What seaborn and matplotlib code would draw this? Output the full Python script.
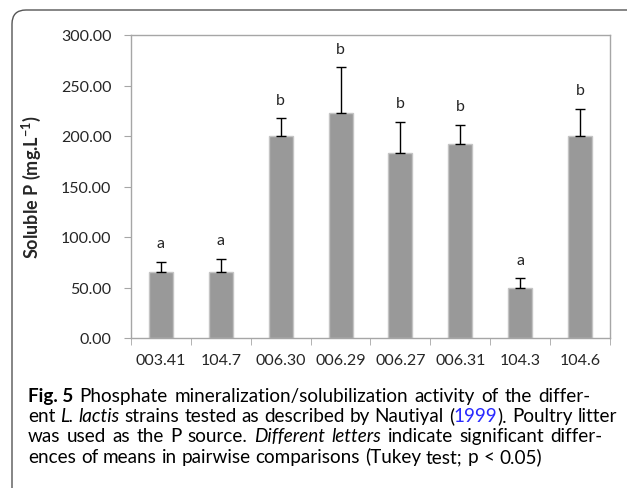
import matplotlib
matplotlib.use("Agg")
import matplotlib.pyplot as plt
import matplotlib.transforms as mtransforms
from matplotlib.patches import FancyBboxPatch
import numpy as np
import seaborn as sns

strains = ["003.41", "104.7", "006.30", "006.29", "006.27", "006.31", "104.3", "104.6"]
soluble_p = [65, 65, 200, 222.5, 183, 192, 50, 200]
sd_upper = [10.5, 13.5, 17.5, 45.5, 31, 19, 9, 27]
letters = ["a", "a", "b", "b", "b", "b", "a", "b"]
yticks = [0, 50, 100, 150, 200, 250, 300]

caption = [
    [("Fig.\u00a05", "bold", "k"),
     (" Phosphate mineralization/solubilization activity of the differ-", "normal", "k")],
    [("ent ", "normal", "k"), ("L. lactis", "italic", "k"),
     (" strains tested as described by Nautiyal (", "normal", "k"),
     ("1999", "normal", "#2a2aff"), ("). Poultry litter", "normal", "k")],
    [("was used as the P source. ", "normal", "k"), ("Different letters", "italic", "k"),
     (" indicate significant differ-", "normal", "k")],
    [("ences of means in pairwise comparisons (Tukey test; p < 0.05)", "normal", "k")],
]

sns.set_style("white")
plt.rcParams["font.family"] = ["Lato", "DejaVu Sans"]
plt.rcParams["mathtext.fontset"] = "custom"
plt.rcParams["mathtext.rm"] = "Lato"
plt.rcParams["mathtext.bf"] = "Lato:bold"

W, H = 627, 489
fig = plt.figure(figsize=(W / 100, H / 100), dpi=100)
ax = fig.add_axes([131 / W, 1 - 339 / H, 479 / W, 303 / H])

sns.barplot(x=strains, y=soluble_p, color="#999999", width=0.4, saturation=1,
            edgecolor="#c4c4c4", linewidth=1, errorbar=None, ax=ax)
x = np.arange(len(strains))
ax.errorbar(x, soluble_p, yerr=[np.zeros(len(x)), sd_upper], fmt="none",
            ecolor="black", elinewidth=1, capsize=3.5, capthick=1)
for xi, top, lab in zip(x, np.add(soluble_p, sd_upper), letters):
    ax.text(xi, top + 18.5, lab, ha="center", va="center", fontsize=11.5)

ax.set_xlim(-0.5, len(strains) - 0.5)
ax.set_ylim(0, 300)
ax.set_yticks(yticks)
ax.set_yticklabels([f"{v:.2f}" for v in yticks], fontsize=11.5)
ax.set_xticks(x)
ax.set_xticklabels(strains, fontsize=11.5)
ax.set_xticks(np.arange(-0.5, len(strains), 1), minor=True)
ax.tick_params(axis="x", which="major", length=0, pad=11)
ax.tick_params(axis="x", which="minor", length=5, color="#a6a6a6", direction="out", bottom=True)
ax.tick_params(axis="y", length=5, color="#a6a6a6", direction="out", left=True, pad=9)
for s in ax.spines.values():
    s.set_color("#a6a6a6")
    s.set_linewidth(1)
ax.set_xlabel("")
ax.set_ylabel("Soluble P (mg.L$^{\\mathbf{-1}}$)", fontsize=13, fontweight="bold")
ax.yaxis.set_label_coords((43 - 131) / 479, 0.5)

# outer rounded frame
frame = FancyBboxPatch((12, -30), 720, 478 + 30, boxstyle="round,pad=0,rounding_size=14",
                       transform=mtransforms.IdentityTransform(), fill=False,
                       edgecolor="#555555", linewidth=1)
fig.add_artist(frame)

# caption, laid out word by word (justified like the source)
ident = mtransforms.IdentityTransform()
renderer = fig.canvas.get_renderer()
cap_font = ["Lato", "DejaVu Sans"]


def words_of(segs):
    words, new_word = [], True
    for text, style, color in segs:
        parts = text.split(" ")
        for i, p in enumerate(parts):
            if i > 0:
                new_word = True
            if p == "":
                continue
            if new_word or not words:
                words.append([(p, style, color)])
            else:
                words[-1].append((p, style, color))
            new_word = False
    return words


def make(t, style, color, size, px, py):
    kw = dict(fontsize=size, family=cap_font, color=color, transform=ident, va="baseline")
    if style == "bold":
        kw["fontweight"] = "bold"
    elif style == "italic":
        kw["fontstyle"] = "italic"
    return fig.text(px, py, t, **kw)


def width(t, style, size):
    txt = make(t, style, "k", size, 0, 0)
    w = txt.get_window_extent(renderer).width
    txt.remove()
    return w


def natural(segs, size):
    sp = width("n n", "normal", size) - width("nn", "normal", size)
    words = words_of(segs)
    return sum(width(t, st, size) for w in words for t, st, c in w) + sp * (len(words) - 1)


# size chosen so the second caption line fills the width with ordinary spacing
cap_size = 10 * 586 / natural(caption[1], 10)
space = width("n n", "normal", cap_size) - width("nn", "normal", cap_size)

left = 28
rights = [606, 617, 606, None]
baselines = [H - 402, H - 422, H - 442, H - 463]
for segs, right, base in zip(caption, rights, baselines):
    words = words_of(segs)
    wws = [[width(t, st, cap_size) for t, st, c in w] for w in words]
    total = sum(sum(ws) for ws in wws)
    gap = space if right is None else (right - left - total) / (len(words) - 1)
    gap = min(gap, space * 1.3)
    px = left
    for w, ws in zip(words, wws):
        for (t, st, c), wi in zip(w, ws):
            make(t, st, c, cap_size, px, base)
            px += wi
        px += gap

fig.savefig("out.png", dpi=100)
